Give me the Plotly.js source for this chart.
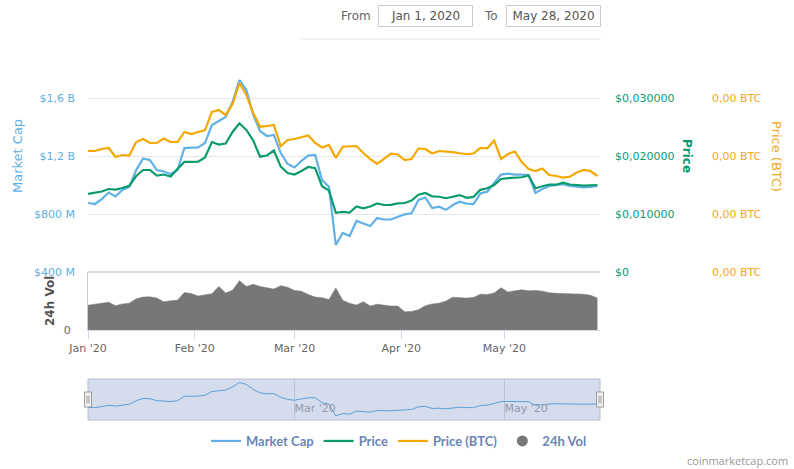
<!DOCTYPE html>
<html>
<head>
<meta charset="utf-8">
<script src="https://cdn.plot.ly/plotly-3.0.1.min.js"></script>
<style>
html,body{margin:0;padding:0;background:#fff;}
#chart{width:794px;height:469px;}
</style>
</head>
<body>
<div id="chart"></div>
<script>
// ---------- DATA ----------
const dates = [
 '2020-01-01','2020-01-03','2020-01-05','2020-01-07','2020-01-09','2020-01-11','2020-01-13','2020-01-15',
 '2020-01-17','2020-01-19','2020-01-21','2020-01-23','2020-01-25','2020-01-27','2020-01-29','2020-01-31',
 '2020-02-02','2020-02-04','2020-02-06','2020-02-08','2020-02-10','2020-02-12','2020-02-14','2020-02-16',
 '2020-02-18','2020-02-20','2020-02-22','2020-02-24','2020-02-26','2020-02-28',
 '2020-03-01','2020-03-03','2020-03-05','2020-03-07','2020-03-09','2020-03-11','2020-03-13','2020-03-15',
 '2020-03-17','2020-03-19','2020-03-21','2020-03-23','2020-03-25','2020-03-27','2020-03-29','2020-03-31',
 '2020-04-02','2020-04-04','2020-04-06','2020-04-08','2020-04-10','2020-04-12','2020-04-14','2020-04-16',
 '2020-04-18','2020-04-20','2020-04-22','2020-04-24','2020-04-26','2020-04-28','2020-04-30',
 '2020-05-02','2020-05-04','2020-05-06','2020-05-08','2020-05-10','2020-05-12','2020-05-14','2020-05-16',
 '2020-05-18','2020-05-20','2020-05-22','2020-05-24','2020-05-26','2020-05-28'
];
// Market cap, millions of USD
const marketCapM = [
 876, 869, 903, 948, 921, 966, 986, 1103, 1183, 1172,
 1103, 1093, 1076, 1103, 1255, 1255, 1259, 1290, 1414, 1441,
 1469, 1572, 1724, 1655, 1483, 1372, 1338, 1345, 1221, 1145,
 1121, 1166, 1203, 1207, 1034, 988, 586, 669, 648, 752,
 736, 717, 772, 762, 762, 779, 798, 805, 897, 914,
 841, 850, 829, 862, 885, 872, 869, 941, 954, 1014,
 1072, 1079, 1072, 1072, 1069, 945, 972, 993, 1000, 1005,
 993, 990, 983, 986, 993
];
// Price, USD
const priceUsd = [
 0.01345, 0.01362, 0.01388, 0.01431, 0.01422, 0.01448, 0.01488, 0.01655, 0.01759, 0.01759,
 0.01664, 0.01681, 0.01647, 0.01776, 0.01897, 0.01897, 0.01902, 0.01974, 0.02241, 0.02198,
 0.02216, 0.02414, 0.02564, 0.02448, 0.02267, 0.01988, 0.02009, 0.02095, 0.01816, 0.01707,
 0.01681, 0.01741, 0.01810, 0.01790, 0.01479, 0.01405, 0.01021, 0.01038, 0.01024, 0.01129,
 0.01098, 0.01128, 0.01183, 0.01155, 0.01159, 0.01184, 0.01190, 0.01233, 0.01333, 0.01362,
 0.01305, 0.01298, 0.01272, 0.01298, 0.01326, 0.01279, 0.01295, 0.01417, 0.01443, 0.01500,
 0.01603, 0.01617, 0.01626, 0.01634, 0.01664, 0.01443, 0.01478, 0.01509, 0.01505, 0.01541,
 0.01509, 0.01495, 0.01488, 0.01495, 0.01500
];
// Price in BTC, expressed in satoshi (1e-8 BTC)
const priceBtcSat = [
 209.0, 208.6, 212.1, 213.8, 198.3, 201.7, 200.9, 224.1, 229.3, 222.4,
 222.4, 230.2, 224.1, 224.1, 241.4, 237.9, 241.4, 244.8, 275.9, 279.3,
 270.7, 289.7, 325.9, 305.2, 274.1, 250.5, 251.7, 253.4, 217.2, 227.6,
 229.3, 231.9, 235.3, 222.4, 214.7, 219.0, 196.6, 216.0, 217.2, 217.2,
 205.2, 194.8, 186.2, 194.8, 204.0, 202.6, 193.1, 194.8, 212.9, 212.1,
 204.3, 208.6, 208.1, 206.6, 204.7, 203.4, 204.3, 214.1, 213.3, 226.7,
 194.8, 203.4, 207.8, 189.7, 177.6, 174.1, 178.4, 167.2, 165.5, 162.9,
 164.3, 171.6, 175.9, 174.1, 165.5
];
// 24h volume, millions of USD
const volumeM = [
 171, 178, 185, 192, 168, 180, 185, 215, 227, 229,
 220, 195, 201, 206, 258, 251, 235, 245, 250, 300,
 255, 275, 340, 300, 315, 300, 290, 283, 305, 295,
 273, 268, 244, 227, 223, 210, 290, 205, 184, 172,
 195, 165, 178, 169, 165, 165, 126, 128, 140, 168,
 180, 185, 200, 226, 225, 220, 225, 247, 245, 255,
 292, 262, 270, 277, 270, 273, 268, 257, 253, 251,
 251, 251, 247, 240, 220
];

const mcapTickVals = [400, 800, 1200, 1600];
const mcapTickText = ['$400 M', '$800 M', '$1,2 B', '$1,6 B'];
const priceTickVals = [0, 0.01, 0.02, 0.03];
const priceTickText = ['$0', '$0,010000', '$0,020000', '$0,030000'];
const btcTickVals = [0, 100, 200, 300];
const btcTickText = ['0,00 BTC', '0,00 BTC', '0,00 BTC', '0,00 BTC'];
const volTickVals = [0];
const volTickText = ['0'];
const monthTickVals = ['2020-01-01', '2020-02-01', '2020-03-01', '2020-04-01', '2020-05-01'];
const monthTickText = ["Jan '20", "Feb '20", "Mar '20", "Apr '20", "May '20"];
const navTickVals = ['2020-03-01', '2020-05-01'];
const navTickText = ["Mar '20", "May '20"];
const xRange = ['2020-01-01', '2020-05-28 18:00'];

// ---------- LAYOUT HELPERS ----------
const W = 794, H = 469, ML = 88;
const PW = W - ML;
const px = v => (v - ML) / PW;      // pixel x -> paper x
const py = v => (H - v) / H;        // pixel y -> paper y

const C_MCAP = '#62b1e6', C_PRICE = '#0a9b6c', C_BTC = '#f5a800', C_VOL = '#777777';
const FONT = 'DejaVu Sans, Verdana, sans-serif';

const traces = [
  {x: dates, y: volumeM, xaxis: 'x', yaxis: 'y4', type: 'scatter', mode: 'lines',
   fill: 'tozeroy', line: {color: C_VOL, width: 0.5}, fillcolor: C_VOL,
   name: '24h Vol', showlegend: false, hoverinfo: 'skip'},
  {x: dates, y: marketCapM, xaxis: 'x', yaxis: 'y', type: 'scatter', mode: 'lines',
   line: {color: C_MCAP, width: 2.2}, name: 'Market Cap', legendrank: 1},
  {x: dates, y: priceUsd, xaxis: 'x', yaxis: 'y2', type: 'scatter', mode: 'lines',
   line: {color: C_PRICE, width: 2.2}, name: 'Price', legendrank: 2},
  {x: dates, y: priceBtcSat, xaxis: 'x', yaxis: 'y3', type: 'scatter', mode: 'lines',
   line: {color: C_BTC, width: 2.2}, name: 'Price (BTC)', legendrank: 3},
  {x: [null], y: [null], xaxis: 'x', yaxis: 'y4', type: 'scatter', mode: 'markers',
   marker: {color: C_VOL, size: 11, symbol: 'circle'}, name: '24h Vol', legendrank: 4},
  {x: dates, y: marketCapM, xaxis: 'x2', yaxis: 'y5', type: 'scatter', mode: 'lines',
   line: {color: '#5b9fd8', width: 1}, showlegend: false, hoverinfo: 'skip'}
];

const xDom = [0, px(600)];
const layout = {
  width: W, height: H,
  margin: {l: ML, r: 0, t: 0, b: 0, pad: 0},
  paper_bgcolor: '#ffffff', plot_bgcolor: 'rgba(0,0,0,0)',
  font: {family: FONT, size: 11, color: '#666'},
  showlegend: true,
  legend: {orientation: 'h', x: px(399), xanchor: 'center', y: py(441), yanchor: 'middle',
           font: {family: 'Lato, Open Sans, sans-serif', size: 13, color: '#6b85b5', weight: 700},
           itemwidth: 30, tracegroupgap: 0, bgcolor: 'rgba(0,0,0,0)'},
  xaxis: {domain: xDom, anchor: 'y4', type: 'date', range: xRange,
          tickvals: monthTickVals, ticktext: monthTickText, ticks: 'outside', ticklen: 8,
          tickcolor: '#ccd6eb', showline: true, linecolor: '#d6dbe4', linewidth: 1,
          showgrid: false, zeroline: false, tickfont: {size: 11, color: '#666'}, fixedrange: true},
  yaxis: {domain: [py(272), py(40)], anchor: 'x', range: [400, 2000],
          tickvals: mcapTickVals, ticktext: mcapTickText, ticks: '', ticklabelstandoff: 12,
          showgrid: true, gridcolor: '#e6e6e6', gridwidth: 1, zeroline: false, showline: false,
          tickfont: {size: 11, color: '#5fafe3'}},
  yaxis2: {overlaying: 'y', side: 'right', anchor: 'x', range: [0, 0.04],
           tickvals: priceTickVals, ticktext: priceTickText, ticks: '', ticklabelstandoff: 14,
           showgrid: false, zeroline: false, showline: false,
           tickfont: {size: 11, color: '#0c9a6c'}},
  yaxis3: {overlaying: 'y', side: 'right', anchor: 'free', position: px(711), range: [0, 400],
           tickvals: btcTickVals, ticktext: btcTickText, ticks: '', ticklabelstandoff: 0,
           showgrid: false, zeroline: false, showline: false,
           tickfont: {size: 11, color: '#f5a623'}},
  yaxis4: {domain: [py(330), py(272)], anchor: 'x', range: [0, 400],
           tickvals: volTickVals, ticktext: volTickText, ticks: '', ticklabelstandoff: 14,
           showgrid: false, zeroline: false, showline: true, linecolor: '#cccccc', linewidth: 1,
           tickfont: {size: 11, color: '#666'}},
  xaxis2: {domain: xDom, anchor: 'y5', type: 'date', range: xRange,
           tickvals: navTickVals, ticktext: navTickText, ticks: '', ticklabelposition: 'inside right',
           showgrid: true, gridcolor: '#b9c2d8', gridwidth: 1, zeroline: false, showline: false,
           tickfont: {size: 11, color: '#9499a8'}},
  yaxis5: {domain: [py(420), py(379)], anchor: 'x2', range: [450, 1840],
           showticklabels: false, showgrid: false, zeroline: false, showline: false, ticks: ''},
  shapes: [
    {type: 'rect', xref: 'x2 domain', yref: 'y5 domain', x0: 0, x1: 1, y0: 0, y1: 1,
     fillcolor: '#d5dcee', line: {color: '#b6bed4', width: 1}, layer: 'below'},
    {type: 'line', xref: 'paper', yref: 'paper', x0: 0, x1: px(600), y0: py(272), y1: py(272),
     line: {color: '#dddddd', width: 2}},
    {type: 'line', xref: 'paper', yref: 'paper', x0: px(300), x1: px(601), y0: py(39), y1: py(39),
     line: {color: '#e6e6e6', width: 1}},
    {type: 'rect', xref: 'x2 domain', yref: 'y5 domain', xsizemode: 'pixel', ysizemode: 'pixel',
     xanchor: 0, yanchor: 0.5, x0: -3.5, x1: 3.5, y0: -7.5, y1: 7.5,
     fillcolor: '#f2f2f2', line: {color: '#999999', width: 1}},
    {type: 'rect', xref: 'x2 domain', yref: 'y5 domain', xsizemode: 'pixel', ysizemode: 'pixel',
     xanchor: 1, yanchor: 0.5, x0: -3.5, x1: 3.5, y0: -7.5, y1: 7.5,
     fillcolor: '#f2f2f2', line: {color: '#999999', width: 1}},
    {type: 'line', xref: 'x2 domain', yref: 'y5 domain', xsizemode: 'pixel', ysizemode: 'pixel',
     xanchor: 0, yanchor: 0.5, x0: -1, x1: -1, y0: -4, y1: 4, line: {color: '#999', width: 1}},
    {type: 'line', xref: 'x2 domain', yref: 'y5 domain', xsizemode: 'pixel', ysizemode: 'pixel',
     xanchor: 0, yanchor: 0.5, x0: 1, x1: 1, y0: -4, y1: 4, line: {color: '#999', width: 1}},
    {type: 'line', xref: 'x2 domain', yref: 'y5 domain', xsizemode: 'pixel', ysizemode: 'pixel',
     xanchor: 1, yanchor: 0.5, x0: -1, x1: -1, y0: -4, y1: 4, line: {color: '#999', width: 1}},
    {type: 'line', xref: 'x2 domain', yref: 'y5 domain', xsizemode: 'pixel', ysizemode: 'pixel',
     xanchor: 1, yanchor: 0.5, x0: 1, x1: 1, y0: -4, y1: 4, line: {color: '#999', width: 1}}
  ],
  annotations: [
    {text: 'Market Cap', xref: 'paper', yref: 'paper', x: px(18), y: py(156), textangle: -90,
     showarrow: false, xanchor: 'center', yanchor: 'middle', font: {family: FONT, size: 13, color: '#5fafe3'}},
    {text: '24h Vol', xref: 'paper', yref: 'paper', x: px(50), y: py(301), textangle: -90,
     showarrow: false, xanchor: 'center', yanchor: 'middle', font: {family: FONT, size: 12, color: '#555555', weight: 700}},
    {text: 'Price', xref: 'paper', yref: 'paper', x: px(687), y: py(156), textangle: 90,
     showarrow: false, xanchor: 'center', yanchor: 'middle', font: {family: FONT, size: 12, color: '#0c9a6c', weight: 700}},
    {text: 'Price (BTC)', xref: 'paper', yref: 'paper', x: px(776), y: py(156), textangle: 90,
     showarrow: false, xanchor: 'center', yanchor: 'middle', font: {family: FONT, size: 13, color: '#f5a623'}},
    {text: 'From', xref: 'paper', yref: 'paper', x: px(356), y: py(16), showarrow: false,
     xanchor: 'center', yanchor: 'middle', font: {family: FONT, size: 12, color: '#666'}},
    {text: 'Jan 1, 2020', xref: 'paper', yref: 'paper', x: px(425.5), y: py(16), showarrow: false,
     xanchor: 'center', yanchor: 'middle', width: 93, height: 20, borderpad: 0,
     bordercolor: '#cccccc', borderwidth: 1, font: {family: FONT, size: 12, color: '#555'}},
    {text: 'To', xref: 'paper', yref: 'paper', x: px(491.5), y: py(16), showarrow: false,
     xanchor: 'center', yanchor: 'middle', font: {family: FONT, size: 12, color: '#666'}},
    {text: 'May 28, 2020', xref: 'paper', yref: 'paper', x: px(553.3), y: py(16), showarrow: false,
     xanchor: 'center', yanchor: 'middle', width: 93, height: 20, borderpad: 0,
     bordercolor: '#cccccc', borderwidth: 1, font: {family: FONT, size: 12, color: '#555'}},
    {text: 'coinmarketcap.com', xref: 'paper', yref: 'paper', x: px(790), y: py(460), showarrow: false,
     xanchor: 'right', yanchor: 'middle', font: {family: 'Open Sans, sans-serif', size: 11, color: '#999'}}
  ]
};

Plotly.newPlot('chart', traces, layout, {staticPlot: true, displayModeBar: false});
</script>
</body>
</html>
